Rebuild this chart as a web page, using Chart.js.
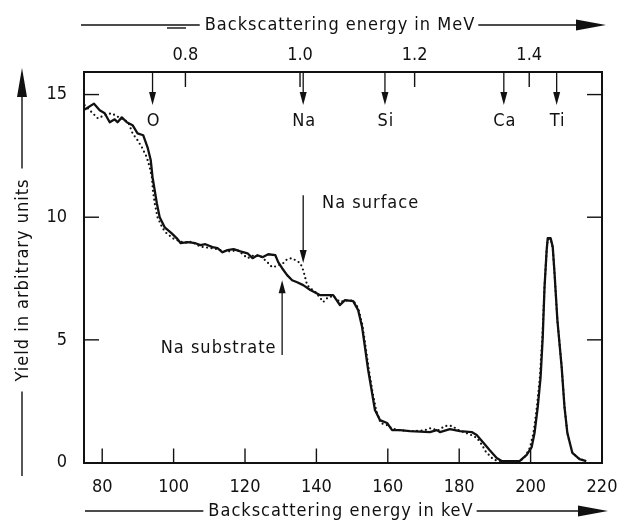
<!DOCTYPE html>
<html>
<head>
<meta charset="utf-8">
<script src="https://cdn.jsdelivr.net/npm/chart.js@4.4.1/dist/chart.umd.min.js"></script>
<style>
  html, body { margin: 0; padding: 0; background: #fff; }
  #wrap { position: relative; width: 620px; height: 522px; }
</style>
</head>
<body>
<div id="wrap"><canvas id="chart"></canvas></div>
<script>
// measured spectrum (solid line)
const measuredEnergy = [75.1, 77.7, 79.3, 80.7, 82.1, 83.5, 84.3, 85.5, 86.9, 88.5, 89.9, 91.5, 92.7, 93.6, 94.1, 94.7, 95.3, 96.1, 97.5, 99.4,
  100.9, 102.0, 103.9, 106.1, 107.5, 108.9, 110.9, 112.3, 113.7, 115.1, 116.8, 118.7, 120.7, 122.1, 123.5, 124.9, 126.5, 128.5, 129.3, 130.4,
  131.8, 133.2, 134.6, 136.3, 138.3, 141.1, 143.0, 144.7, 146.6, 148.0, 150.3, 151.7, 152.8, 153.6, 154.5, 155.6, 156.4, 157.8, 159.8, 161.2,
  163.4, 166.2, 171.8, 173.7, 174.6, 177.4, 180.2, 183.5, 184.9, 186.6, 188.5, 190.5, 191.9, 196.9, 198.9, 200.3, 201.1, 202.0, 202.8, 203.4,
  203.9, 204.5, 204.8, 205.6, 206.2, 206.7, 207.5, 208.7, 209.5, 210.3, 211.7, 213.7, 215.6];
const measuredYield = [14.39, 14.63, 14.36, 14.24, 13.87, 13.99, 13.87, 14.07, 13.87, 13.75, 13.42, 13.34, 12.85, 12.32, 11.63, 11.10, 10.57, 10.00, 9.59, 9.35,
  9.14, 8.94, 8.98, 8.94, 8.86, 8.90, 8.78, 8.74, 8.57, 8.66, 8.70, 8.61, 8.53, 8.33, 8.45, 8.37, 8.49, 8.45, 8.17, 7.92,
  7.64, 7.43, 7.35, 7.23, 7.03, 6.82, 6.82, 6.82, 6.42, 6.62, 6.58, 6.21, 5.52, 4.71, 3.77, 2.83, 2.14, 1.73, 1.61, 1.32,
  1.32, 1.28, 1.24, 1.32, 1.24, 1.36, 1.28, 1.24, 1.12, 0.84, 0.51, 0.18, 0.06, 0.06, 0.31, 0.63, 1.20, 2.26, 3.48, 5.11,
  7.15, 8.66, 9.15, 9.15, 8.79, 7.73, 5.81, 3.89, 2.26, 1.20, 0.39, 0.14, 0.06];

// simulated spectrum (dotted line)
const simEnergy = [75.1, 76.5, 78.8, 80.5, 82.6, 84.3, 86.5, 87.5, 88.5, 89.9, 91.1, 92.5, 93.3, 93.9, 94.2, 94.7, 95.5, 96.9, 98.0, 100.0,
  103.0, 105.0, 107.5, 110.0, 112.0, 115.0, 118.0, 120.7, 122.5, 124.5, 126.5, 127.6, 129.2, 130.7, 131.8, 133.2, 134.1, 135.5, 136.3, 136.9,
  137.4, 138.3, 139.7, 141.1, 141.9, 143.3, 144.7, 146.6, 148.0, 150.3, 151.7, 152.9, 153.8, 154.7, 155.8, 156.8, 158.0, 159.5, 161.0, 163.0,
  166.0, 170.0, 172.0, 174.0, 176.0, 178.0, 180.0, 182.0, 183.7, 185.1, 186.4, 187.5, 189.2, 190.6, 197.0, 198.5, 199.8, 200.8, 201.8, 202.6,
  203.3, 203.9, 204.5, 204.8, 205.6, 206.2, 206.7, 207.5, 208.7, 209.5, 210.3, 211.7, 213.7, 215.6];
const simYield = [14.56, 14.36, 14.03, 14.15, 14.24, 14.10, 13.95, 13.80, 13.42, 13.14, 12.85, 12.44, 12.04, 11.63, 11.10, 10.57, 10.00, 9.55, 9.35, 9.12,
  8.95, 9.00, 8.80, 8.75, 8.70, 8.60, 8.65, 8.33, 8.45, 8.40, 8.13, 7.96, 8.02, 8.13, 8.29, 8.33, 8.25, 8.13, 7.84, 7.52,
  7.23, 7.11, 6.95, 6.70, 6.54, 6.74, 6.78, 6.55, 6.60, 6.60, 6.30, 5.60, 4.70, 3.77, 2.80, 2.10, 1.60, 1.55, 1.40, 1.32,
  1.28, 1.30, 1.40, 1.30, 1.49, 1.49, 1.30, 1.20, 1.10, 0.98, 0.71, 0.43, 0.18, 0.06, 0.05, 0.25, 0.60, 1.20, 2.30, 3.50,
  5.10, 7.15, 8.66, 9.10, 9.10, 8.75, 7.70, 5.80, 3.90, 2.26, 1.20, 0.39, 0.14, 0.06];

const keVTicks = [80, 100, 120, 140, 160, 180, 200, 220];
const meVTicks = [0.8, 1.0, 1.2, 1.4];
const yieldTicks = [0, 5, 10, 15];

// surface edges of the elements (keV)
const elementNames = ['O', 'Na', 'Si', 'Ca', 'Ti'];
const elementEnergy = [94.1, 136.3, 159.2, 192.5, 207.3];

const ink = '#111';
const fontFamily = '"DejaVu Sans Condensed", "DejaVu Sans", sans-serif';

function vArrow(ctx, x, yFrom, yTo, headLen, headW) {
  const dir = yTo > yFrom ? 1 : -1;
  ctx.beginPath();
  ctx.moveTo(x, yFrom);
  ctx.lineTo(x, yTo - dir * headLen * 0.8);
  ctx.stroke();
  ctx.beginPath();
  ctx.moveTo(x, yTo);
  ctx.lineTo(x - headW / 2, yTo - dir * headLen);
  ctx.lineTo(x + headW / 2, yTo - dir * headLen);
  ctx.closePath();
  ctx.fill();
}

function hArrow(ctx, xFrom, xTo, y, headLen, headW) {
  ctx.beginPath();
  ctx.moveTo(xFrom, y);
  ctx.lineTo(xTo - headLen * 0.8, y);
  ctx.stroke();
  ctx.beginPath();
  ctx.moveTo(xTo, y);
  ctx.lineTo(xTo - headLen, y - headW / 2);
  ctx.lineTo(xTo - headLen, y + headW / 2);
  ctx.closePath();
  ctx.fill();
}

// titles with arrows, inward ticks, element markers
const decor = {
  id: 'decor',
  afterDraw(chart) {
    const { ctx, chartArea: a, scales } = chart;
    const x = scales.x, x2 = scales.x2, y = scales.y;
    ctx.save();
    ctx.strokeStyle = ink;
    ctx.fillStyle = ink;
    ctx.lineWidth = 1.4;

    // inward tick marks
    keVTicks.forEach(v => {
      if (v >= x.max) return;
      const px = x.getPixelForValue(v);
      ctx.beginPath(); ctx.moveTo(px, a.bottom); ctx.lineTo(px, a.bottom - 14); ctx.stroke();
    });
    meVTicks.forEach(v => {
      const px = x2.getPixelForValue(v);
      ctx.beginPath(); ctx.moveTo(px, a.top); ctx.lineTo(px, a.top + 15); ctx.stroke();
    });
    yieldTicks.forEach(v => {
      if (v === 0) return;
      const py = y.getPixelForValue(v);
      ctx.beginPath(); ctx.moveTo(a.left, py); ctx.lineTo(a.left + 15, py); ctx.stroke();
      ctx.beginPath(); ctx.moveTo(a.right, py); ctx.lineTo(a.right - 15, py); ctx.stroke();
    });

    ctx.font = '18px ' + fontFamily;
    ctx.letterSpacing = '1px';
    ctx.textBaseline = 'middle';

    // element arrows
    ctx.lineWidth = 1.3;
    elementNames.forEach((name, i) => {
      const px = x.getPixelForValue(elementEnergy[i]);
      vArrow(ctx, px, a.top, a.top + 33, 13, 7);
      ctx.textAlign = 'center';
      ctx.fillText(name, px + 1, a.top + 49);
    });

    // Na surface / substrate markers
    const naX = x.getPixelForValue(136.3);
    vArrow(ctx, naX, y.getPixelForValue(10.9), y.getPixelForValue(8.13), 13, 7);
    ctx.textAlign = 'left';
    ctx.fillText('Na surface', x.getPixelForValue(141.6), y.getPixelForValue(10.57));
    const subX = x.getPixelForValue(130.4);
    vArrow(ctx, subX, y.getPixelForValue(4.38), y.getPixelForValue(7.43), 13, 7);
    ctx.fillText('Na substrate', x.getPixelForValue(96.4), y.getPixelForValue(4.66));

    // axis titles with arrows
    ctx.lineWidth = 1.4;
    ctx.textAlign = 'center';
    const drawTitle = (text, cx, cy, x0, x1) => {
      const w = ctx.measureText(text).width;
      ctx.fillText(text, cx, cy);
      ctx.beginPath(); ctx.moveTo(x0, cy); ctx.lineTo(cx - w / 2 - 5, cy); ctx.stroke();
      hArrow(ctx, cx + w / 2 + 3, x1, cy, 30, 11);
    };
    drawTitle('Backscattering energy in MeV', 340, 25, 81, 606);
    drawTitle('Backscattering energy in keV', 341, 511, 85, 608);
    // short doubled stroke under the top arrow line, as in the print
    ctx.beginPath(); ctx.moveTo(167, 28); ctx.lineTo(186, 28); ctx.stroke();

    // vertical title
    const yt = 'Yield in arbitrary units';
    const wt = ctx.measureText(yt).width;
    const cy = 280;
    ctx.save();
    ctx.translate(22, cy);
    ctx.rotate(-Math.PI / 2);
    ctx.fillText(yt, 0, 1);
    ctx.restore();
    vArrow(ctx, 22, cy - wt / 2 - 10, 68, 29, 10);
    ctx.beginPath(); ctx.moveTo(22, cy + wt / 2 + 10); ctx.lineTo(22, 476); ctx.stroke();

    ctx.restore();
  }
};

const tickFont = { family: fontFamily, size: 18 };
const frame = { display: true, color: ink, width: 2 };
// keep the frame where it is in the figure, whatever the label overhang
const noOverhang = h => s => { s.height = h; s.paddingLeft = 0; s.paddingRight = 0; };

new Chart(document.getElementById('chart'), {
  type: 'line',
  data: {
    datasets: [
      {
        label: 'measured',
        data: measuredEnergy.map((e, i) => ({ x: e, y: measuredYield[i] })),
        borderColor: ink,
        borderWidth: 2.3,
        pointRadius: 0,
        tension: 0,
        borderJoinStyle: 'round'
      },
      {
        label: 'simulated',
        data: simEnergy.map((e, i) => ({ x: e, y: simYield[i] })),
        borderColor: ink,
        borderWidth: 2.2,
        borderDash: [0, 4.5],
        borderCapStyle: 'round',
        pointRadius: 0,
        tension: 0
      }
    ]
  },
  options: {
    responsive: true,
    maintainAspectRatio: false,
    animation: false,
    layout: { padding: 0 },
    plugins: {
      legend: { display: false },
      tooltip: { enabled: false }
    },
    scales: {
      x: {
        type: 'linear',
        position: 'bottom',
        min: 74.9,
        max: 220,
        afterBuildTicks: s => { s.ticks = keVTicks.map(v => ({ value: v })); },
        afterFit: noOverhang(59.5),
        ticks: { color: ink, font: tickFont, padding: 14, maxRotation: 0, autoSkip: false },
        grid: { display: false, drawTicks: false },
        border: frame
      },
      x2: {
        type: 'linear',
        position: 'top',
        min: 0.623,
        max: 1.527,
        afterBuildTicks: s => { s.ticks = meVTicks.map(v => ({ value: v })); },
        afterFit: noOverhang(72),
        ticks: { color: ink, font: tickFont, padding: 6, maxRotation: 0, autoSkip: false,
                 callback: v => v.toFixed(1) },
        grid: { display: false, drawTicks: false },
        border: frame
      },
      y: {
        position: 'left',
        min: 0,
        max: 15.92,
        afterBuildTicks: s => { s.ticks = yieldTicks.map(v => ({ value: v })); },
        afterFit: s => { s.width = 84; s.paddingTop = 0; s.paddingBottom = 0; },
        ticks: { color: ink, font: tickFont, padding: 17 },
        grid: { display: false, drawTicks: false },
        border: frame
      },
      y2: {
        position: 'right',
        min: 0,
        max: 15.92,
        ticks: { display: false },
        afterFit: s => { s.width = 18; s.paddingTop = 0; s.paddingBottom = 0; },
        grid: { display: false, drawTicks: false },
        border: frame
      }
    }
  },
  plugins: [decor]
});
</script>
</body>
</html>
